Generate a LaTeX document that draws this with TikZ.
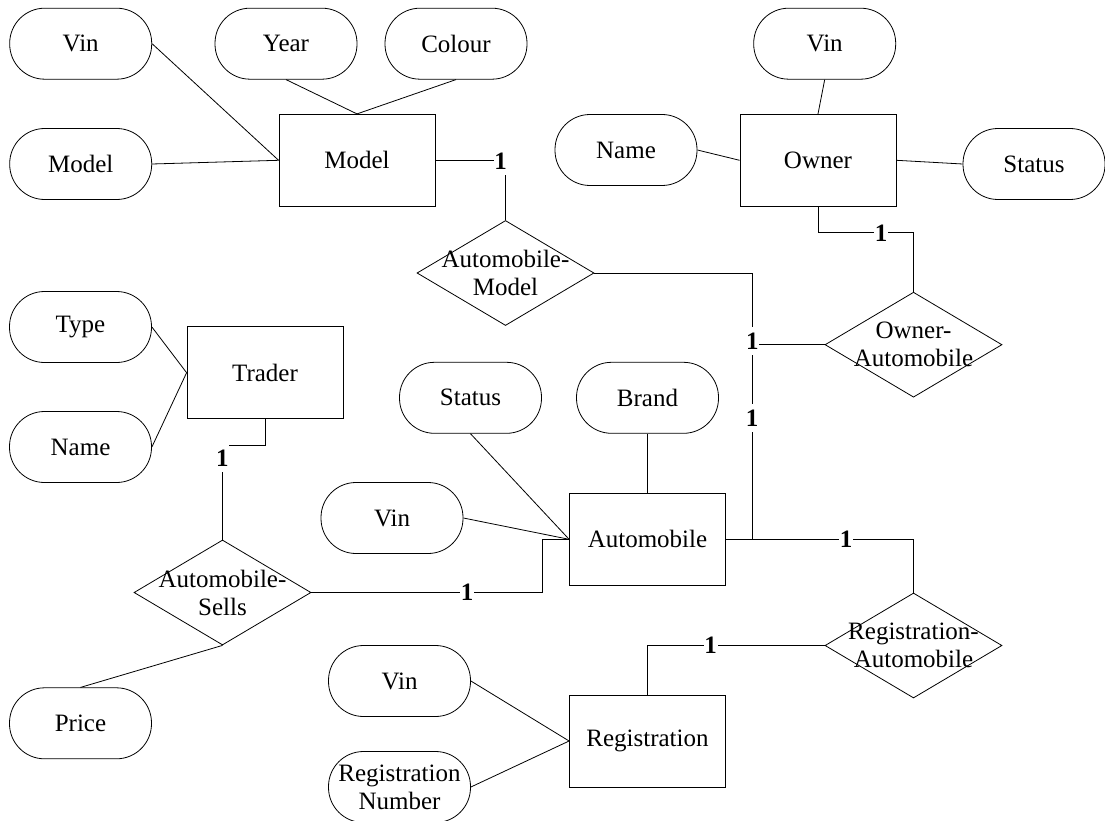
\documentclass[tikz,border=0pt]{standalone}
\usepackage{fontspec}
\setmainfont{Liberation Serif}
\usetikzlibrary{shapes.geometric,calc}
\begin{document}
\begin{tikzpicture}[x=1pt,y=-1pt,line width=0.8pt,
  every node/.style={font=\fontsize{25}{28}\selectfont},
  attr/.style={draw, rounded corners=35pt, minimum width=142pt, minimum height=71pt, inner sep=0pt, align=center},
  ent/.style={draw, minimum width=156pt, minimum height=92pt, inner sep=0pt},
  rel/.style={draw, diamond, minimum width=177pt, minimum height=105pt, inner sep=0pt},
  reltext/.style={align=center, inner sep=0pt},
  card/.style={fill=white, inner xsep=0.6pt, inner ysep=5.5pt, font=\fontsize{25}{28}\selectfont\bfseries}]
\useasboundingbox (0,0) rectangle (1105,821);
% entities
\node[ent] (model) at (357,160.3) {Model};
\node[ent] (owner) at (818,160.3) {Owner};
\node[ent] (trader) at (265,372.7) {Trader};
\node[ent] (auto) at (647.5,539.3) {Automobile};
\node[ent] (reg) at (647.5,741) {Registration};
% attributes
\node[attr] (vin1) at (80.7,43.7) {Vin};
\node[attr] (year) at (286,43.7) {Year};
\node[attr] (colour) at (456,43.7) {Colour};
\node[attr] (mattr) at (80.7,164) {Model};
\node[attr] (vin2) at (824.7,43.7) {Vin};
\node[attr] (name1) at (626,150) {Name};
\node[attr] (status1) at (1034,164) {Status};
\node[attr] (type) at (80.5,327) {Type};
\node[attr] (name2) at (80.5,447) {Name};
\node[attr] (status2) at (470.5,397.8) {Status};
\node[attr] (brand) at (647.5,397.8) {Brand};
\node[attr] (vin3) at (392,518) {Vin};
\node[attr] (price) at (80.5,723.3) {Price};
\node[attr] (vin4) at (399.5,681) {Vin};
\node[attr] (regnum) at (399.5,787) {Registration\\Number};
% relationships
\node[rel] (am) at (505.5,273) {};
\node[reltext] (amt) at (am) {Automobile-\\Model};
\node[rel] (oa) at (913.5,344.7) {};
\node[reltext] (oat) at (oa) {Owner-\\Automobile};
\node[rel] (as) at (222.5,592.5) {};
\node[reltext] (ast) at (as) {Automobile-\\Sells};
\node[rel] (ra) at (913.5,645.5) {};
\node[reltext] (rat) at (ra) {Registration-\\Automobile};
\coordinate (j) at (752,539.3);
% attribute links
\draw (vin1.east) -- (model.west);
\draw (mattr.east) -- (model.west);
\draw (year.south) -- (model.north);
\draw (colour.south) -- (model.north);
\draw (vin2.south) -- (owner.north);
\draw (name1.east) -- (owner.west);
\draw (owner.east) -- (status1.west);
\draw (type.east) -- (trader.west);
\draw (name2.east) -- (trader.west);
\draw (status2.south) -- (auto.west);
\draw (vin3.east) -- (auto.west);
\draw (brand.south) -- (auto.north);
\draw (as.south) -- (price.north);
\draw (vin4.east) -- (reg.west);
\draw (regnum.east) -- (reg.west);
% relationship links
\draw (model.east) -| (am.north);
\draw (owner.south) -- ++(0,26) -| (oa.north);
\draw (am.east) -| (j);
\draw (oa.west) -- (oa.west -| j);
\draw (auto.east) -| (ra.north);
\draw (trader.south) -- ++(0,26.3) -| (as.north);
\draw (as.east) -| ([xshift=-26.3pt]auto.west) -- (auto.west);
\draw (ra.west) -| (reg.north);
% cardinalities
\node[card] (c1) at (500.5,161) {1};
\node[card] (c2) at (881,233) {1};
\node[card] (c3) at (752.3,341) {1};
\node[card] (c4) at (752,418) {1};
\node[card] (c5) at (222.3,458) {1};
\node[card] (c6) at (467,592) {1};
\node[card] (c7) at (846,539) {1};
\node[card] (c8) at (710.7,645) {1};
\end{tikzpicture}
\end{document}
